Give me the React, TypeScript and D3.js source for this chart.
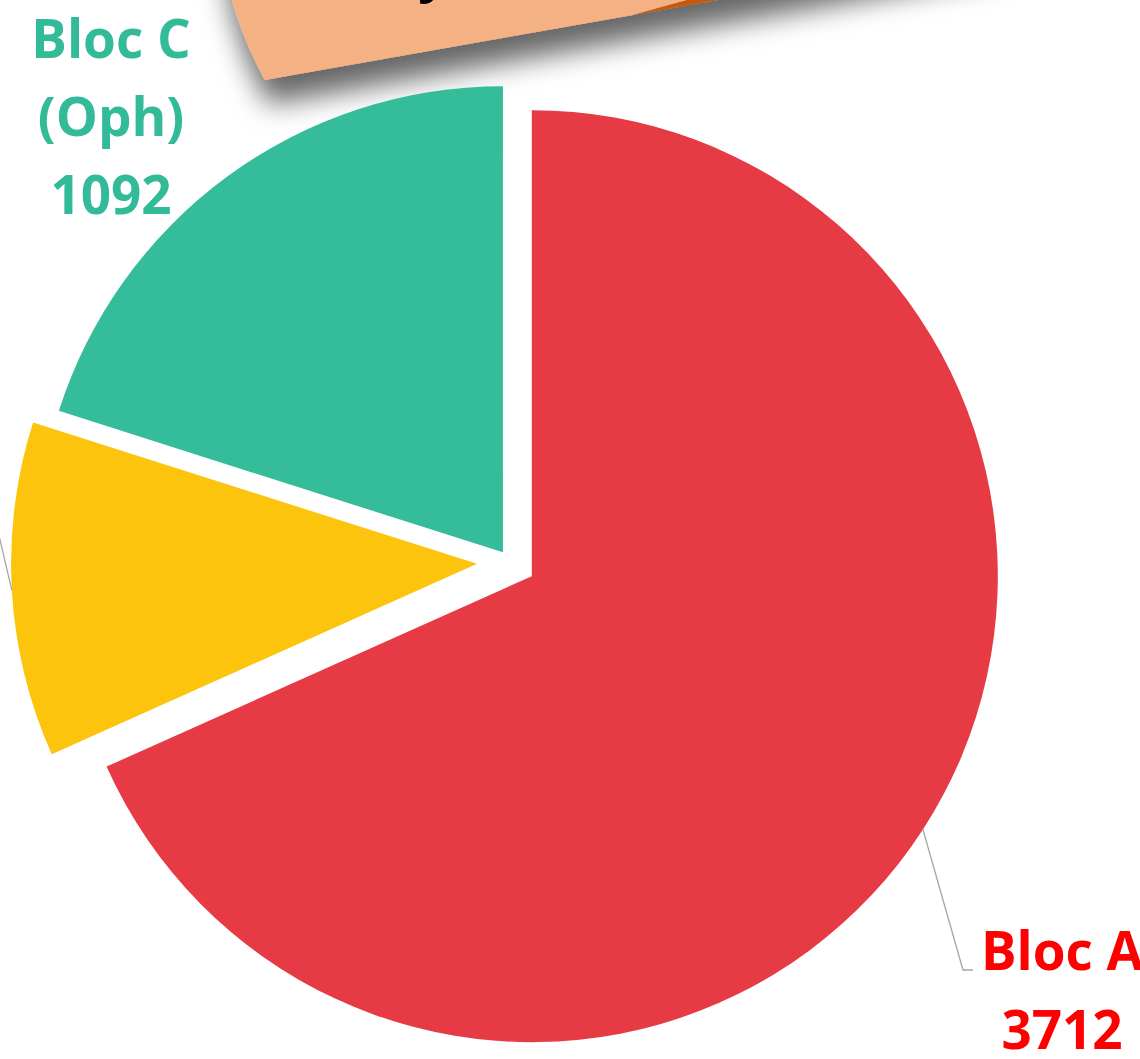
import React from "react";
import * as d3 from "d3";

// ---- data ----
const CATEGORIES = ["Bloc A", "Bloc B", "Bloc C (Oph)"];
const VALUES = [3712, 631, 1092];
const SLICE_COLORS = ["#E63A44", "#FDC40D", "#34BC9B"];
const LABEL_COLORS = ["#FF0000", "#FFC000", "#33BB99"];
const EXPLODE = [26, 33, 12];

// fragment of the neighbouring chart, cut by the top edge
const UPPER_CATEGORIES = ["(Gyn)", "Autres"];
const UPPER_VALUES = [1747, 53];
const UPPER_COLORS = ["#F4B183", "#C55A11"];

const W = 1140;
const H = 1059;
const FONT = "'Open Sans', 'Liberation Sans', sans-serif";

export default function App() {
  const cx = 510;
  const cy = 562;
  const R = 466;

  const pie = d3.pie<number>().sort(null).value((d) => d)(VALUES);
  const arc = d3.arc<d3.PieArcDatum<number>>().innerRadius(0).outerRadius(R);

  const slices = pie.map((d, i) => {
    const mid = (d.startAngle + d.endAngle) / 2;
    const ox = cx + Math.sin(mid) * EXPLODE[i];
    const oy = cy - Math.cos(mid) * EXPLODE[i];
    const ax = ox + Math.sin(mid) * R;
    const ay = oy - Math.cos(mid) * R;
    return { d, i, mid, ox, oy, ax, ay };
  });

  const upperPie = d3
    .pie<number>()
    .sort(null)
    .startAngle(Math.PI * 1.5)
    .endAngle(Math.PI * 2.5)
    .value((d) => d)(UPPER_VALUES);
  const upperArc = d3.arc<d3.PieArcDatum<number>>().innerRadius(0).outerRadius(374);

  const fontSize = 53;

  // label layouts (positions only)
  const labelLayout = [
    { x: 1062, y: 970, step: 79, leader: (s: any) => [[s.ax, s.ay], [963, 970], [973, 970]] },
    { x: -260, y: 470, step: 78, leader: (s: any) => [[s.ax, s.ay], [-14, 480], [-26, 480]] },
    { x: 111, y: 58, step: 78, leader: null as any },
  ];

  // Bloc A shows category on one line; others split "Name (Sub)" into two lines
  const splitLabel = (cat: string, v: number, split: boolean) => {
    const idx = cat.indexOf(" (");
    const parts = split && idx >= 0 ? [cat.slice(0, idx), cat.slice(idx + 1)] : [cat];
    return [...parts, String(v)];
  };

  const line = d3.line();

  return (
    <svg
      width={W}
      height={H}
      style={{ position: "absolute", left: 0, top: 0, background: "#fff" }}
    >
      <defs>
        <filter id="shadow" x="-40%" y="-40%" width="180%" height="200%">
          <feDropShadow dx="4" dy="24" stdDeviation="14" floodColor="#000" floodOpacity="0.6" />
        </filter>
      </defs>
      <rect width={W} height={H} fill="#fff" />

      {/* neighbouring chart fragment */}
      <g filter="url(#shadow)">
        <g transform="translate(633,15) rotate(-10) skewX(18.4)">
          {upperPie.map((d, i) => (
            <path key={i} d={upperArc(d) || ""} fill={UPPER_COLORS[i]} />
          ))}
        </g>
      </g>
      <text x={362} y={-9} fontFamily={FONT} fontWeight={700} fontSize={fontSize} fill="#000">
        {UPPER_CATEGORIES[0]}
      </text>

      {/* main pie */}
      {slices.map((s) => (
        <path
          key={s.i}
          d={arc(s.d) || ""}
          transform={`translate(${s.ox},${s.oy})`}
          fill={SLICE_COLORS[s.i]}
        />
      ))}

      {/* leaders */}
      {slices.map((s) => {
        const L = labelLayout[s.i];
        if (!L.leader) return null;
        return (
          <path
            key={"l" + s.i}
            d={line(L.leader(s)) || ""}
            fill="none"
            stroke="#A6A6A6"
            strokeWidth={1.3}
          />
        );
      })}

      {/* labels */}
      {slices.map((s) => {
        const L = labelLayout[s.i];
        const lines = splitLabel(CATEGORIES[s.i], VALUES[s.i], s.i !== 0);
        return (
          <text
            key={"t" + s.i}
            textAnchor="middle"
            fontFamily={FONT}
            fontWeight={700}
            fontSize={fontSize}
            fill={LABEL_COLORS[s.i]}
          >
            {lines.map((t, k) => (
              <tspan key={k} x={L.x} y={L.y + k * L.step}>
                {t}
              </tspan>
            ))}
          </text>
        );
      })}
    </svg>
  );
}
